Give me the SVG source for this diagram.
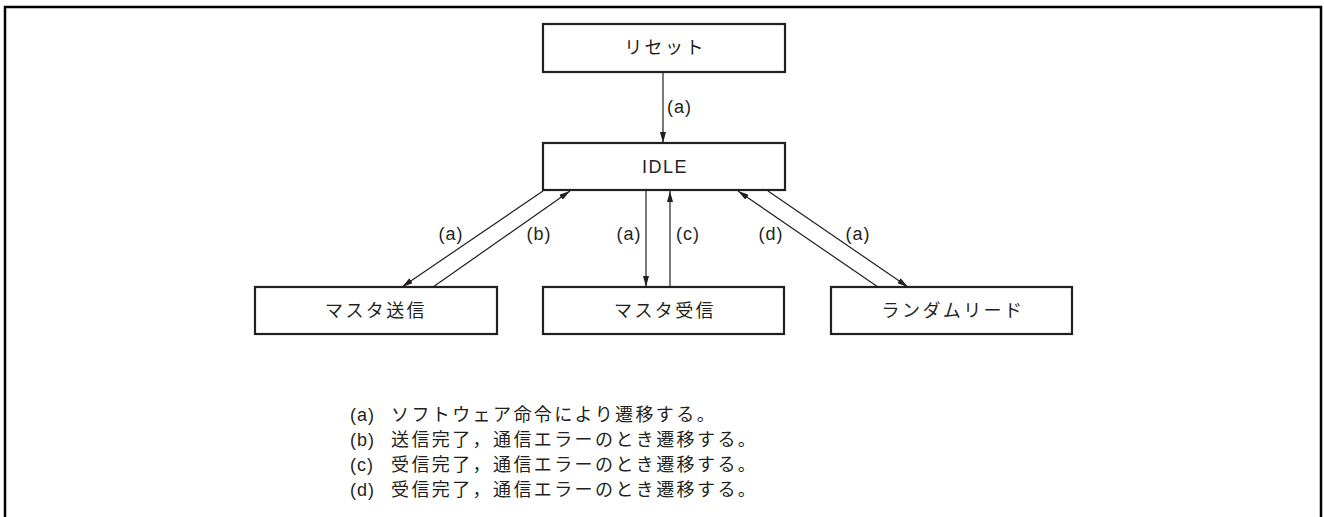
<svg xmlns="http://www.w3.org/2000/svg" width="1324" height="517" viewBox="0 0 1324 517">
<style>
.box{fill:#fff;stroke:#231f20;stroke-width:2.2}
.lbl{font-family:"Liberation Sans","Noto Sans CJK JP",sans-serif;font-size:18px;fill:#231f20;letter-spacing:1px}
.jp{font-family:"Liberation Sans","Noto Sans CJK JP",sans-serif;font-size:18px;fill:#231f20;letter-spacing:2.4px}
.edge{stroke:#231f20;stroke-width:1.2;fill:none;marker-end:url(#ah)}
</style>
<defs>
<marker id="ah" viewBox="0 0 11 6" refX="11" refY="3" markerWidth="11" markerHeight="6" markerUnits="userSpaceOnUse" orient="auto">
<path d="M0,0 L11,3 L0,6 z" fill="#231f20"/>
</marker>
</defs>
<rect x="0" y="0" width="1324" height="517" fill="#fff"/>
<rect x="5" y="7" width="1316" height="530" fill="none" stroke="#000" stroke-width="2.5"/>
<g id="connectors">
<line class="edge" x1="663" y1="73" x2="663" y2="143"/>
<line class="edge" x1="543" y1="191" x2="402" y2="287"/>
<line class="edge" x1="433" y1="287" x2="570" y2="191"/>
<line class="edge" x1="646" y1="191" x2="646" y2="287"/>
<line class="edge" x1="670" y1="287" x2="670" y2="191"/>
<line class="edge" x1="878" y1="287" x2="738" y2="191"/>
<line class="edge" x1="768" y1="191" x2="908" y2="287"/>
<text class="lbl" x="667" y="113">(a)</text>
<text class="lbl" x="451" y="240" text-anchor="middle">(a)</text>
<text class="lbl" x="539" y="240" text-anchor="middle">(b)</text>
<text class="lbl" x="629" y="240" text-anchor="middle">(a)</text>
<text class="lbl" x="688" y="240" text-anchor="middle">(c)</text>
<text class="lbl" x="771" y="240" text-anchor="middle">(d)</text>
<text class="lbl" x="858" y="240" text-anchor="middle">(a)</text>
</g>
<g id="reset">
<rect class="box" x="543" y="24" width="242" height="48"/>
<text class="jp" x="665" y="54" text-anchor="middle">リセット</text>
</g>
<g id="idle">
<rect class="box" x="543" y="143" width="242" height="47"/>
<text class="lbl" x="665" y="173" text-anchor="middle" style="letter-spacing:1.5px">IDLE</text>
</g>
<g id="master-tx">
<rect class="box" x="255" y="287" width="242" height="47"/>
<text class="jp" x="376" y="317" text-anchor="middle">マスタ送信</text>
</g>
<g id="master-rx">
<rect class="box" x="543" y="287" width="241" height="47"/>
<text class="jp" x="665" y="317" text-anchor="middle">マスタ受信</text>
</g>
<g id="random-read">
<rect class="box" x="831" y="287" width="241" height="47"/>
<text class="jp" x="953" y="317" text-anchor="middle">ランダムリード</text>
</g>
<g id="legend">
<text class="lbl" x="350" y="421">(a)</text><text class="jp" x="391" y="421">ソフトウェア命令により遷移する。</text>
<text class="lbl" x="350" y="446">(b)</text><text class="jp" x="391" y="446">送信完了，通信エラーのとき遷移する。</text>
<text class="lbl" x="350" y="471">(c)</text><text class="jp" x="391" y="471">受信完了，通信エラーのとき遷移する。</text>
<text class="lbl" x="350" y="496">(d)</text><text class="jp" x="391" y="496">受信完了，通信エラーのとき遷移する。</text>
</g>
</svg>
